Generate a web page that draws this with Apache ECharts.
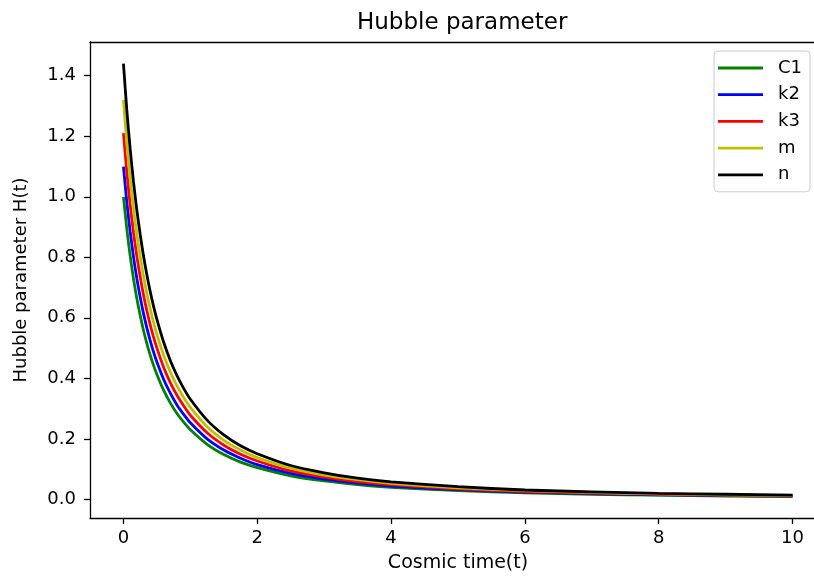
<!DOCTYPE html>
<html>
<head>
<meta charset="utf-8">
<script src="https://cdn.jsdelivr.net/npm/echarts@6/dist/echarts.min.js"></script>
<style>html,body{margin:0;padding:0;background:#fff;overflow:hidden;width:814px;height:578px;}#c{width:830px;height:578px;}</style>
</head>
<body>
<div id="c"></div>
<script>
var times = [0,0.05,0.1,0.15,0.2,0.25,0.3,0.35,0.4,0.45,0.5,0.6,0.7,0.8,0.9,1,1.25,1.5,1.75,2,2.5,3,3.5,4,5,6,7,8,9,10];
var C1 = [1.0,0.894,0.805,0.729,0.664,0.608,0.558,0.515,0.477,0.443,0.413,0.361,0.319,0.284,0.255,0.230,0.182,0.148,0.123,0.105,0.078,0.061,0.049,0.040,0.029,0.022,0.017,0.014,0.011,0.010];
var k2 = [1.1,0.983,0.886,0.802,0.730,0.669,0.614,0.567,0.525,0.487,0.454,0.397,0.351,0.312,0.281,0.253,0.200,0.163,0.136,0.115,0.086,0.067,0.054,0.044,0.032,0.024,0.019,0.015,0.013,0.011];
var k3 = [1.21,1.082,0.974,0.882,0.803,0.736,0.675,0.623,0.577,0.536,0.500,0.437,0.386,0.344,0.309,0.278,0.220,0.179,0.149,0.127,0.094,0.074,0.059,0.049,0.035,0.026,0.021,0.017,0.014,0.012];
var m  = [1.32,1.180,1.063,0.962,0.876,0.803,0.737,0.680,0.630,0.585,0.545,0.477,0.421,0.375,0.337,0.304,0.240,0.195,0.163,0.138,0.103,0.080,0.065,0.053,0.038,0.029,0.023,0.018,0.015,0.013];
var n  = [1.44,1.287,1.159,1.050,0.956,0.876,0.804,0.742,0.687,0.638,0.595,0.520,0.459,0.409,0.367,0.331,0.262,0.213,0.177,0.151,0.112,0.088,0.070,0.058,0.042,0.031,0.025,0.020,0.017,0.014];
var xTicks = [0,2,4,6,8,10];
var yTicks = [0,0.2,0.4,0.6,0.8,1.0,1.2,1.4];
var seriesNames = ['C1','k2','k3','m','n'];
var seriesColors = ['#008000','#0000ff','#ff0000','#bfbf00','#000000'];
var seriesValues = [C1,k2,k3,m,n];

var font = 'DejaVu Sans';
var chart = echarts.init(document.getElementById('c'), null, {renderer:'canvas'});
var series = seriesNames.map(function(name, i){
  return {
    name: name, type: 'line', symbol: 'none', showSymbol: false, smooth: 0.25,
    xAxisIndex: 0, yAxisIndex: 0,
    lineStyle: {color: seriesColors[i], width: 2.8},
    itemStyle: {color: seriesColors[i]},
    data: times.map(function(t, j){ return [t, seriesValues[i][j]]; })
  };
});
chart.setOption({
  animation: false,
  backgroundColor: '#fff',
  title: {text: 'Hubble parameter', left: 352, top: 7,
    textStyle: {fontFamily: font, fontSize: 23, fontWeight: 'normal', color: '#000'}},
  legend: {
    orient: 'vertical', left: 714, top: 51,
    padding: [8, 8, 8, 4], itemWidth: 45, itemHeight: 14, itemGap: 8.7,
    icon: 'path://M0,0L0.01,0L0.01,0.01L0,0.01Z M0,14L0.01,14L0.01,13.99L0,13.99Z M0,5.6L45,5.6L45,8.4L0,8.4Z',
    borderColor: '#cccccc', borderWidth: 1, borderRadius: 4, backgroundColor: '#fff',
    textStyle: {fontFamily: font, fontSize: 18, color: '#000', padding: [0,0,0,10]},
    data: seriesNames
  },
  grid: {left: 90, top: 42, width: 736, height: 478, show: false, containLabel: false},
  xAxis: [{
    type: 'value', min: -0.5, max: 10.5, position: 'bottom',
    name: 'Cosmic time(t)', nameLocation: 'middle', nameGap: 36,
    nameTextStyle: {fontFamily: font, fontSize: 19, color: '#000'},
    axisLine: {show: true, onZero: false, lineStyle: {color: '#000', width: 1.3}},
    axisTick: {show: true, inside: false, length: 6, customValues: xTicks, lineStyle: {color: '#000', width: 1.3}},
    axisLabel: {customValues: xTicks, margin: 11, fontFamily: font, fontSize: 18, color: '#000',
      formatter: function(v){ return String(v); }},
    splitLine: {show: false}
  }, {
    type: 'value', min: -0.5, max: 10.5, position: 'top',
    axisLine: {show: true, onZero: false, lineStyle: {color: '#000', width: 1.3}},
    axisTick: {show: false}, axisLabel: {show: false}, splitLine: {show: false}
  }],
  yAxis: {
    type: 'value', min: -0.0615, max: 1.5115,
    name: 'Hubble parameter H(t)', nameLocation: 'middle', nameGap: 60, nameRotate: 90,
    nameTextStyle: {fontFamily: font, fontSize: 18, color: '#000'},
    axisLine: {show: true, onZero: false, lineStyle: {color: '#000', width: 1.3}},
    axisTick: {show: true, inside: false, length: 6, customValues: yTicks, lineStyle: {color: '#000', width: 1.3}},
    axisLabel: {customValues: yTicks, margin: 14, fontFamily: font, fontSize: 18, color: '#000',
      formatter: function(v){ return v.toFixed(1); }},
    splitLine: {show: false}
  },
  series: series
});
</script>
</body>
</html>
